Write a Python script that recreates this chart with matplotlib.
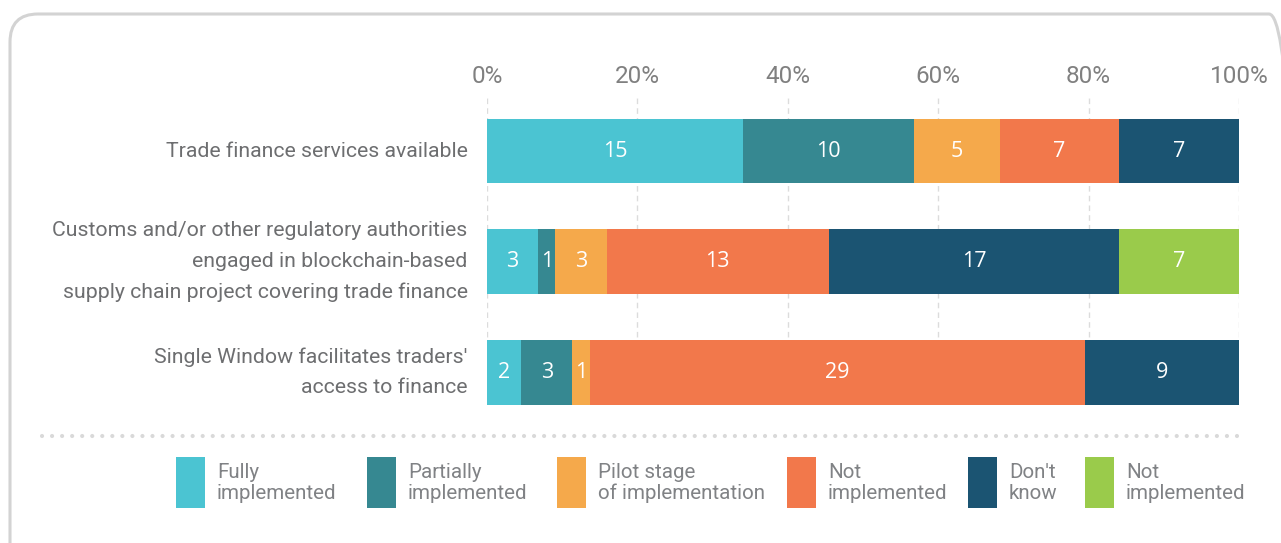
import matplotlib
matplotlib.use("Agg")
import matplotlib.pyplot as plt
from matplotlib.patches import Rectangle, FancyBboxPatch
from matplotlib.lines import Line2D

# Data
categories = [
    "Trade finance services available",
    "Customs and/or other regulatory authorities\nengaged in blockchain-based\nsupply chain project covering trade finance",
    "Single Window facilitates traders'\naccess to finance",
]
series_names = [
    "Fully\nimplemented",
    "Partially\nimplemented",
    "Pilot stage\nof implementation",
    "Not\nimplemented",
    "Don't\nknow",
    "Not\nimplemented",
]
fully = [15, 3, 2]
partially = [10, 1, 3]
pilot = [5, 3, 1]
not_impl = [7, 13, 29]
dont_know = [7, 17, 9]
not_impl_2 = [0, 7, 0]
xticks = [0, 20, 40, 60, 80, 100]

colors = ["#4bc4d2", "#368891", "#f5a94b", "#f2784b", "#1b5472", "#9acb4b"]
series = [fully, partially, pilot, not_impl, dont_know, not_impl_2]

W, H = 1281, 543
fig = plt.figure(figsize=(W / 100, H / 100), dpi=100)
fig.patch.set_facecolor("white")

# rounded frame (runs off the right and bottom edges)
frame = FancyBboxPatch((0.10, -0.3), 12.87, 5.29 + 0.3,
                       boxstyle="round,pad=0,rounding_size=0.28",
                       transform=fig.dpi_scale_trans, facecolor="none",
                       edgecolor="#d3d3d3", linewidth=2.2)
fig.add_artist(frame)

ax = fig.add_axes([487 / W, 1 - 405 / H, 752 / W, 309 / H])

totals = [sum(s[i] for s in series) for i in range(len(categories))]
ypos = list(range(len(categories)))
left = [0.0] * len(categories)
for vals, col in zip(series, colors):
    pct = [v / t * 100 for v, t in zip(vals, totals)]
    bars = ax.barh(ypos, pct, left=left, height=0.587, color=col,
                   edgecolor="none", zorder=2)
    for b, v in zip(bars, vals):
        if v > 0:
            ax.text(b.get_x() + b.get_width() / 2, b.get_y() + b.get_height() / 2,
                    str(v), ha="center", va="center", color="white",
                    fontsize=15.5, family="Open Sans", zorder=3)
    left = [l + p for l, p in zip(left, pct)]

ax.set_xlim(0, 100)
ax.set_ylim(2.295, -0.497)
ax.xaxis.tick_top()
ax.set_xticks(xticks)
ax.set_xticklabels([f"{t}%" for t in xticks], family="Roboto", fontsize=17.5,
                   color="#808080")
ax.tick_params(axis="x", length=0, pad=6)
ax.set_yticks(ypos)
ax.set_yticklabels(categories, family="Roboto", fontsize=15.3, color="#6d6e70",
                   va="center")
ax.tick_params(axis="y", length=0, pad=14)
for t in ax.get_yticklabels():
    t.set_linespacing(1.78)
for s in ax.spines.values():
    s.set_visible(False)
ax.grid(axis="x", linestyle=(0, (4, 3)), color="#dcdcdc", linewidth=1, zorder=0)
ax.set_axisbelow(True)

# dotted separator
fig.add_artist(Line2D([42 / W, 1243 / W], [1 - 436 / H] * 2, transform=fig.transFigure,
                      linestyle=(0, (0.01, 2.4)), dash_capstyle="round",
                      linewidth=3, color="#d9d9d9"))

# legend
patch_left = [176, 367, 557, 787, 968, 1085]
for px, name, col in zip(patch_left, series_names, colors):
    fig.add_artist(Rectangle((px / W, 1 - 508 / H), 29 / W, 51 / H,
                             transform=fig.transFigure, facecolor=col,
                             edgecolor="none"))
    fig.text((px + 41) / W, 1 - 483 / H, name, ha="left", va="center",
             family="Roboto", fontsize=14.8, color="#808285", linespacing=1.15)

fig.savefig("out.png", dpi=100)
